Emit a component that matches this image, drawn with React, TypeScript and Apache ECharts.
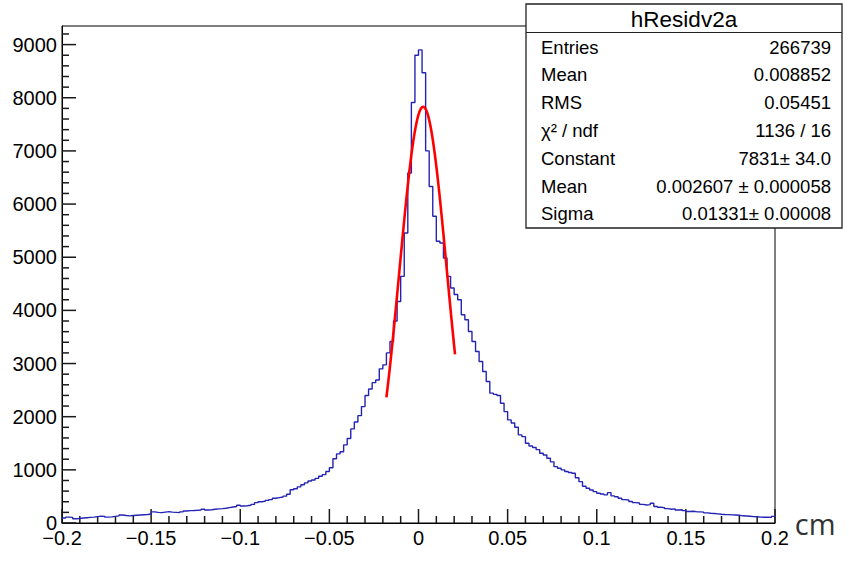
import React, { useEffect, useRef } from "react";
import * as echarts from "echarts";

// ---- histogram definition (200 bins of 0.002 cm from -0.2 to 0.2) ----
const X_MIN = -0.2;
const X_MAX = 0.2;
const BIN_WIDTH = 0.002;

const countsLeftTail = [
  95, 110, 105, 80, 85, 95, 100, 105, 110, 120,
  130, 125, 110, 115, 125, 135, 150, 140, 135, 140,
  145, 150, 155, 160, 170, 210, 200, 195, 205, 215,
  205, 200, 195, 210, 225, 232, 235, 240, 245, 260,
  245, 250, 258, 265, 270, 278, 290, 300, 310, 335,
];
const countsLeftCore = [
  320, 325, 335, 350, 383, 400, 410, 425, 440, 465,
  478, 490, 505, 540, 625, 645, 680, 720, 755, 790,
  810, 840, 880, 910, 970, 1040, 1210, 1300, 1340, 1470,
  1590, 1770, 1900, 2020, 2190, 2400, 2520, 2640, 2690, 2900,
  2975, 3200, 3415, 3800, 4168, 4640, 5455, 6585, 7910, 8800,
];
const countsRightCore = [
  8900, 8470, 7000, 6330, 5770, 5300, 5267, 4985, 4640, 4420,
  4300, 4200, 3917, 3823, 3603, 3414, 3226, 3038, 2849, 2661,
  2443, 2420, 2400, 2254, 2096, 1940, 1880, 1800, 1657, 1625,
  1500, 1450, 1420, 1380, 1313, 1280, 1218, 1150, 1060, 1030,
  1000, 970, 950, 936, 850, 778, 690, 655, 621, 590,
];
const countsRightTail = [
  560, 546, 530, 571, 510, 495, 465, 440, 433, 405,
  383, 375, 350, 339, 345, 371, 310, 296, 290, 270,
  258, 265, 245, 250, 232, 215, 220, 213, 210, 205,
  190, 183, 178, 172, 165, 160, 158, 152, 150, 145,
  135, 132, 128, 120, 118, 110, 107, 108, 105, 125,
];
const counts = [...countsLeftTail, ...countsLeftCore, ...countsRightCore, ...countsRightTail];

// ---- Gaussian fit (parameters from the stats box) ----
const fitConstant = 7831;
const fitMean = 0.002607;
const fitSigma = 0.01331;
const fitRange = [-0.018, 0.0205];

// ---- axes ----
const Y_MAX = 9350;
const X_MAJOR = 0.05;
const X_MINOR = 0.01;
const Y_MAJOR = 1000;
const Y_MINOR = 200;
const xTickValues = [-0.2, -0.15, -0.1, -0.05, 0, 0.05, 0.1, 0.15, 0.2];
const yTickValues = [0, 1000, 2000, 3000, 4000, 5000, 6000, 7000, 8000, 9000];

// ---- stats box ----
const statsTitle = "hResidv2a";
const statsLabels = ["Entries", "Mean", "RMS", "χ² / ndf", "Constant", "Mean", "Sigma"];
const statsValues = ["266739", "0.008852", "0.05451", "1136 / 16", "7831± 34.0", "0.002607 ± 0.000058", "0.01331± 0.00008"];

const FONT = '"Liberation Sans", Arial, Helvetica, sans-serif';

export default function App() {
  const ref = useRef<HTMLDivElement>(null);
  useEffect(() => {
    if (!ref.current) return;
    const chart = echarts.init(ref.current, undefined, { renderer: "svg" });

    const histData: [number, number][] = counts.map((v, i) => [X_MIN + i * BIN_WIDTH, v]);
    histData.push([X_MAX, counts[counts.length - 1]]);

    const fitData: [number, number][] = [];
    const nFit = 120;
    for (let k = 0; k <= nFit; k++) {
      const x = fitRange[0] + ((fitRange[1] - fitRange[0]) * k) / nFit;
      const z = (x - fitMean) / fitSigma;
      fitData.push([x, fitConstant * Math.exp(-0.5 * z * z)]);
    }

    // tick positions along the axes: [x, y, major flag]
    const xTicks: number[][] = [];
    const nx = Math.round((X_MAX - X_MIN) / X_MINOR);
    for (let k = 0; k <= nx; k++) {
      const v = parseFloat((X_MIN + k * X_MINOR).toFixed(4));
      const major = Math.abs(v / X_MAJOR - Math.round(v / X_MAJOR)) < 1e-6 ? 1 : 0;
      xTicks.push([v, 0, major]);
    }
    const yTicks: number[][] = [];
    for (let v = 0; v <= Y_MAX; v += Y_MINOR) {
      yTicks.push([X_MIN, v, v % Y_MAJOR === 0 ? 1 : 0]);
    }

    const fmtX = (v: number) => {
      const r = parseFloat(v.toFixed(3));
      if (!xTickValues.some((t) => Math.abs(t - r) < 1e-9)) return "";
      const s = String(Math.abs(r));
      return r < 0 ? "\u2212" + s : s;
    };
    const fmtY = (v: number) => (yTickValues.indexOf(Math.round(v)) >= 0 ? String(Math.round(v)) : "");

    const boxX = 526, boxY = 4, boxW = 316, boxH = 224;
    const rowH = 27.8;
    const statsChildren: any[] = [
      { type: "rect", shape: { x: 0, y: 0, width: boxW, height: boxH }, style: { fill: "#fff", stroke: "#222", lineWidth: 1.3 } },
      { type: "line", shape: { x1: 0, y1: 28.5, x2: boxW, y2: 28.5 }, style: { stroke: "#222", lineWidth: 1.2 } },
      { type: "text", x: boxW / 2, y: 15, style: { text: statsTitle, fontSize: 22.5, fontFamily: FONT, fill: "#000", align: "center", verticalAlign: "middle" } },
    ];
    statsLabels.forEach((lab, i) => {
      const cy = 43 + i * rowH;
      statsChildren.push({ type: "text", x: 15, y: cy, style: { text: lab, fontSize: 18.5, fontFamily: FONT, fill: "#000", align: "left", verticalAlign: "middle" } });
      statsChildren.push({ type: "text", x: boxW - 11, y: cy, style: { text: statsValues[i], fontSize: 18.5, fontFamily: FONT, fill: "#000", align: "right", verticalAlign: "middle" } });
    });

    const tickColor = "#1a1a1a";
    const tickWidth = 1.5;

    chart.setOption({
      animation: false,
      backgroundColor: "#fff",
      grid: { left: 62, right: 74, top: 26, bottom: 40, show: true, borderColor: "#000", borderWidth: 1 },
      xAxis: {
        type: "value",
        min: X_MIN,
        max: X_MAX,
        interval: X_MAJOR,
        name: "cm",
        nameLocation: "end",
        nameGap: 19,
        nameTextStyle: { fontSize: 29, fontFamily: '"Open Sans", sans-serif', color: "#333", verticalAlign: "middle", padding: [48, 0, 0, 0] },
        axisLine: { show: true, onZero: false, lineStyle: { color: "#000", width: 1 } },
        axisTick: { show: false },
        splitLine: { show: false },
        axisLabel: { formatter: fmtX, fontSize: 20, fontFamily: FONT, color: "#000", margin: 5 },
      },
      yAxis: {
        type: "value",
        min: 0,
        max: Y_MAX,
        interval: Y_MAJOR,
        axisLine: { show: true, onZero: false, lineStyle: { color: "#000", width: 1 } },
        axisTick: { show: false },
        splitLine: { show: false },
        axisLabel: { formatter: fmtY, fontSize: 20, fontFamily: FONT, color: "#000", margin: 5, showMaxLabel: false },
      },
      series: [
        {
          type: "line",
          name: "hResidv2a",
          data: histData,
          step: "end",
          showSymbol: false,
          symbol: "none",
          lineStyle: { color: "#2424b4", width: 1.4 },
        },
        {
          type: "line",
          name: "gaus",
          data: fitData,
          showSymbol: false,
          symbol: "none",
          lineStyle: { color: "#ff0000", width: 2.6 },
        },
        {
          type: "custom",
          name: "xTicks",
          data: xTicks,
          clip: false,
          renderItem: (params: any, api: any) => {
            const p = api.coord([api.value(0), 0]);
            const len = api.value(2) ? 14 : 7;
            return { type: "line", shape: { x1: p[0], y1: p[1], x2: p[0], y2: p[1] - len }, style: { stroke: tickColor, lineWidth: tickWidth } };
          },
        },
        {
          type: "custom",
          name: "yTicks",
          data: yTicks,
          clip: false,
          renderItem: (params: any, api: any) => {
            const p = api.coord([X_MIN, api.value(1)]);
            const len = api.value(2) ? 14 : 7;
            return { type: "line", shape: { x1: p[0], y1: p[1], x2: p[0] + len, y2: p[1] }, style: { stroke: tickColor, lineWidth: tickWidth } };
          },
        },
      ],
      graphic: [{ type: "group", x: boxX, y: boxY, z: 10, children: statsChildren }],
    });
    return () => chart.dispose();
  }, []);
  return <div ref={ref} style={{ position: "fixed", left: 0, top: 0, width: 849, height: 563, background: "#fff" }} />;
}
